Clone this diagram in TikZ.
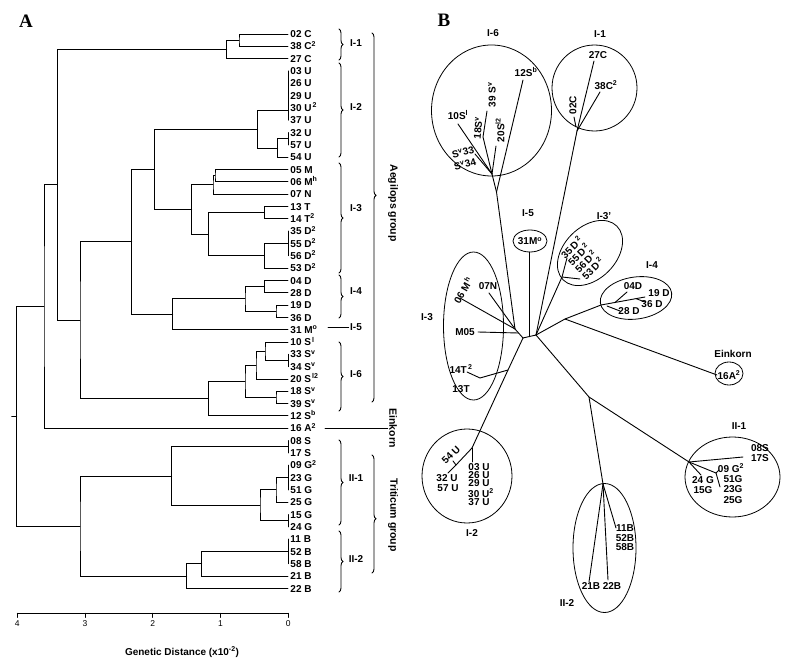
\documentclass[tikz,border=0pt]{standalone}
\usepackage{fontspec}
\setmainfont{Liberation Sans}
\newfontfamily\panelfont{Liberation Serif}
\usetikzlibrary{calc, decorations.pathreplacing}

\tikzset{
  leaf/.style={anchor=west, inner sep=2pt, text height=7.3pt, text depth=0pt,
    font=\fontsize{10}{12}\selectfont\bfseries},
  blab/.style={inner sep=0.5pt, font=\fontsize{10}{11}\selectfont\bfseries},
  grp/.style={inner sep=1pt, font=\fontsize{10}{12}\selectfont\bfseries},
  side/.style={inner sep=1pt, rotate=-90, font=\fontsize{10.5}{12}\selectfont\bfseries},
  tick/.style={inner sep=1pt, font=\fontsize{8.5}{10}\selectfont},
  panel/.style={inner sep=0pt, font=\fontsize{19}{22}\selectfont\panelfont\bfseries},
  cbrace/.style={decorate, decoration={brace, amplitude=4pt}},
  hull/.style={line width=0.8pt},
}

% one clade of the dendrogram: name, distance x, upper child, lower child
\newcommand{\clade}[4]{%
  \coordinate (cmid) at ($(#3)!0.5!(#4)$);
  \coordinate (#1) at (cmid -| #2,0);
  \draw (#3) -| (#1) |- (#4);}
% leaves at zero distance
\newcommand{\tie}[3]{%
  \draw (#2.west) -- (#3.west);
  \coordinate (#1) at ($(#2.west)!0.5!(#3.west)$);}

\begin{document}
\begin{tikzpicture}[x=1pt, y=-1pt, line width=0.9pt, line cap=round]
\useasboundingbox (0,0) rectangle (790,666);

% ---------------- A: dendrogram ----------------
\node[panel] (pA) at (26,21) {A};

\foreach \n/\t [count=\i from 0] in {
  a02/{02 C}, a38/{38 C\textsuperscript{2}}, a27/{27 C},
  a03/{03 U}, a26/{26 U}, a29/{29 U}, a30/{30 U\textsuperscript{\,2}}, a37/{37 U},
  a32/{32 U}, a57/{57 U}, a54/{54 U},
  a05/{05 M}, a06/{06 M\textsuperscript{h}}, a07/{07 N},
  a13/{13 T}, a14/{14 T\textsuperscript{2}},
  a35/{35 D\textsuperscript{2}}, a55/{55 D\textsuperscript{2}}, a56/{56 D\textsuperscript{2}}, a53/{53 D\textsuperscript{2}},
  a04/{04 D}, a28/{28 D}, a19/{19 D}, a36/{36 D},
  a31/{31 M\textsuperscript{o}},
  a10/{10 S\textsuperscript{\,l}}, a33/{33 S\textsuperscript{v}}, a34/{34 S\textsuperscript{v}},
  a20/{20 S\textsuperscript{\,l2}}, a18/{18 S\textsuperscript{v}}, a39/{39 S\textsuperscript{v}},
  a12/{12 S\textsuperscript{b}},
  a16/{16 A\textsuperscript{2}},
  a08/{08 S}, a17/{17 S}, a09/{09 G\textsuperscript{2}}, a23/{23 G}, a51/{51 G},
  a25/{25 G}, a15/{15 G}, a24/{24 G},
  a11/{11 B}, a52/{52 B}, a58/{58 B}, a21/{21 B}, a22/{22 B}}
  \node[leaf] (\n) at (288,{34+12.32*\i}) {\t};

% I-1
\clade{c1}{239}{a02}{a38}
\clade{c2}{226.7}{c1}{a27}
% I-2
\draw (a03.west) -- (a37.west);
\coordinate (u1) at ($(a30.west)!0.2!(a37.west)$);
\tie{u2}{a32}{a57}
\clade{u3}{277.7}{u2}{a54}
\clade{c3}{257.7}{u1}{u3}
% I-3
\clade{m1}{215}{a05}{a06}
\clade{m2}{213}{m1}{a07}
\clade{t1}{264.3}{a13}{a14}
\tie{d0}{a35}{a56}
\clade{d1}{264.3}{d0}{a53}
\clade{t2}{208.3}{t1}{d1}
\clade{c4}{191.7}{m2}{t2}
\clade{c5}{154.3}{c3}{c4}
% I-4, I-5
\clade{e1}{264.3}{a04}{a28}
\clade{e2}{276}{a19}{a36}
\clade{e3}{245}{e1}{e2}
\clade{e4}{172.7}{e3}{a31}
\clade{c6}{131.7}{c5}{e4}
% I-6
\tie{s0}{a33}{a34}
\clade{s1}{265}{a10}{s0}
\clade{s2}{256}{s1}{a20}
\clade{s3}{276}{a18}{a39}
\clade{s4}{245}{s2}{s3}
\clade{s5}{208.3}{s4}{a12}
\clade{c7}{80}{c6}{s5}
\clade{c8}{57.3}{c2}{c7}
\clade{c9}{44}{c8}{a16}
% II-1, II-2
\tie{g0}{a08}{a17}
\tie{g1}{a09}{a51}
\clade{g2}{276}{g1}{a25}
\tie{g3}{a15}{a24}
\clade{g4}{260}{g2}{g3}
\clade{g5}{171.7}{g0}{g4}
\tie{b0}{a11}{a58}
\clade{b1}{201.7}{b0}{a21}
\clade{b2}{186.7}{b1}{a22}
\clade{c10}{80}{g5}{b2}
\clade{r0}{16.7}{c9}{c10}
\draw (r0) -- ++(-5,0);

% axis
\draw (17.3,613.3) -- (288.3,613.3);
\foreach \d in {0,...,4}
  \draw ({288.3-67.75*\d},613.3) -- ++(0,4) node[tick, anchor=north, yshift=-2pt] (t\d) {\d};
\node[grp] (axis) at (182,652) {Genetic Distance (x10\textsuperscript{-2})};

% groups
\draw[cbrace] (339,29) -- (339,60);   \node[grp] (gA1) at (356,43) {I-1};
\draw[cbrace] (339,63) -- (339,157);  \node[grp] (gA2) at (356,107) {I-2};
\draw[cbrace] (339,163) -- (339,273); \node[grp] (gA3) at (356,208) {I-3};
\draw[cbrace] (339,275) -- (339,318); \node[grp] (gA4) at (356,291) {I-4};
\node[grp] (gA5) at (356,327) {I-5};
\draw (328,327) -- (gA5);
\draw[cbrace] (339,342) -- (339,411); \node[grp] (gA6) at (356,374) {I-6};
\draw[cbrace] (339,440) -- (339,525); \node[grp] (gA7) at (356,478) {II-1};
\draw[cbrace] (339,531) -- (339,592); \node[grp] (gA8) at (356,559) {II-2};
\draw[cbrace, decoration={aspect=0.44}] (372,33) -- (372,402);
\node[side] (aeg) at (393,203) {Aegilops group};
\node[side] (ein) at (393,428) {Einkorn};
\draw (325,428) -- (ein);
\draw[cbrace, decoration={aspect=0.54}] (372,455) -- (372,573);
\node[side] (tri) at (393,515) {Triticum group};

% ---------------- B: unrooted tree ----------------
\node[panel] (pB) at (444,20) {B};

\coordinate (h1) at (523,338);
\coordinate (h5) at (529,336.6);
\coordinate (h2) at (536,335);
\coordinate (j3) at (515,329);
\coordinate (j5m) at (518.5,333);
\coordinate (j6a) at (496.5,192);
\coordinate (j6b) at (492,174);
\coordinate (j1) at (577,131);
\coordinate (j3p) at (562,277);
\coordinate (jE) at (565,319);
\coordinate (j4) at (601,305);
\coordinate (jT) at (508,370);
\coordinate (j2) at (472,448);
\coordinate (jII) at (589,397);
\coordinate (j21) at (689,462);
\coordinate (j22) at (603,484);

\draw (h1) -- (h5) -- (h2);
\draw (h1) -- (j3) -- (j6a) -- (j6b);

% I-6
\draw[hull] (491.5,110.5) ellipse [x radius=60, y radius=65.5];
\node[grp] (gB6) at (493,33) {I-6};
\node[blab] (b12) at (526,72) {12S\textsuperscript{b}};
\node[blab, rotate=90] (b39) at (492,95) {39 S\textsuperscript{v}};
\node[blab] (b10) at (458,115) {10S\textsuperscript{l}};
\node[blab, rotate=85] (b18) at (478,128) {18S\textsuperscript{v}};
\node[blab, rotate=90] (b20) at (500,130) {20S\textsuperscript{l2}};
\node[blab, rotate=15] (b33) at (463,152) {S\textsuperscript{v}33};
\node[blab, rotate=15] (b34) at (465,164) {S\textsuperscript{v}34};
\coordinate (x12) at (523,80);
\coordinate (x39) at (487,111);
\coordinate (k39) at (483,137);
\coordinate (x20) at (496,146);
\coordinate (x10) at (458,124);
\coordinate (x33) at (475,154);
\draw (j6a) -- (x12);
\draw (j6b) -- (x20);
\draw (j6b) -- (k39) -- (x39);
\draw (j6b) -- (x10);
\draw (j6b) -- (x33);

% I-1
\draw[hull] (594.5,88) ellipse [x radius=42.5, y radius=43];
\node[grp] (gB1) at (600,34) {I-1};
\node[blab] (b27) at (598,55) {27C};
\node[blab] (b38) at (606,85) {38C\textsuperscript{2}};
\node[blab, rotate=90] (b02) at (573,105) {02C};
\coordinate (x27) at (594,61);
\coordinate (x38) at (600,92);
\coordinate (x02) at (574,117);
\coordinate (k02) at (576,127);
\draw (h2) -- (j1) -- (x27);
\draw (j1) -- (x38);
\draw (k02) -- (x02);

% I-5
\draw[hull] (530,241) ellipse [x radius=17, y radius=11];
\node[grp] (gB5) at (528,213) {I-5};
\node[blab] (b31) at (530,241) {31M\textsuperscript{o}};
\coordinate (x31) at (529,252);
\draw (h5) -- (x31);

% I-3'
\draw[hull, rotate around={45:(590,253)}] (590,253) ellipse [x radius=38, y radius=26];
\node[grp] (gB3p) at (604,216) {I-3'};
\foreach \n/\t/\x/\y in {b35/35/571.5/247.5, b55/55/578.5/254.5, b56/56/585.5/261.5, b53/53/592.5/268.5}
  \node[blab, rotate=45] (\n) at (\x,\y) {\t\,D\textsuperscript{\,2}};
\coordinate (x35) at (567,258);
\coordinate (x53) at (580,279);
\draw (h2) -- (j3p) -- (x35);
\draw (j3p) -- (x53);

% I-4 and Einkorn
\draw[hull, rotate around={8:(636,298)}] (636,298) ellipse [x radius=36, y radius=21];
\node[grp] (gB4) at (652,265) {I-4};
\node[blab] (b04) at (633,286) {04D};
\node[blab] (b19) at (659,293) {19 D};
\node[blab] (b36) at (652,304) {36 D};
\node[blab] (b28) at (629,311) {28 D};
\coordinate (x19) at (645,297);
\coordinate (k04) at (615,302.5);
\coordinate (x04) at (627,292);
\coordinate (k28) at (607,306);
\coordinate (x28) at (620,311);
\coordinate (k36) at (636,298.6);
\coordinate (x36) at (645,302);
\draw (h2) -- (jE) -- (j4) -- (x19);
\draw (k04) -- (x04);
\draw (k28) -- (x28);
\draw (k36) -- (x36);
\draw[hull] (729,373.5) ellipse [x radius=14, y radius=11.5];
\node[grp] (gBE) at (733,354) {Einkorn};
\node[blab] (b16) at (729,375) {16A\textsuperscript{2}};
\coordinate (x16) at (717,375);
\draw (jE) -- (x16);

% I-3
\draw[hull] (473.5,326) ellipse [x radius=30, y radius=74];
\node[grp] (gB3) at (427,317) {I-3};
\node[blab, rotate=60] (b06) at (463,290) {06 M\textsuperscript{\,h}};
\node[blab] (b07) at (488,286) {07N};
\node[blab] (b05) at (465,332) {M05};
\node[blab] (b14) at (461,369) {14T\textsuperscript{\,2}};
\node[blab] (b13) at (461,389) {13T};
\coordinate (x07) at (489,293);
\coordinate (x06) at (460,298);
\coordinate (x05) at (478,332);
\coordinate (x13) at (480,378);
\coordinate (x14) at (467,372);
\draw (x07) -- (j3);
\draw (x06) -- (j3);
\draw (x05) -- (j5m);
\draw (h1) -- (jT) -- (j2);
\draw (jT) -- (x13) -- (x14);

% I-2
\draw[hull] (467,476) ellipse [x radius=45, y radius=47];
\node[grp] (gB2) at (472,533) {I-2};
\node[blab, rotate=45] (b54) at (451,455) {54 U};
\node[blab] (b32) at (447,478) {32 U};
\node[blab] (b57) at (448,488) {57 U};
\node[blab] (b03) at (479,467) {03 U};
\node[blab] (b26) at (479,475) {26 U};
\node[blab] (b29) at (479,483) {29 U};
\node[blab] (b30) at (481,493) {30 U\textsuperscript{2}};
\node[blab] (b37) at (479,502) {37 U};
\coordinate (x03) at (472,462);
\coordinate (k32) at (456,465);
\coordinate (x32) at (448,473);
\coordinate (x54) at (453,461);
\draw (j2) -- (x03);
\draw (j2) -- (k32) -- (x32);
\draw (k32) -- (x54);

% II-1
\draw (h2) -- (jII) -- (j21);
\draw (jII) -- (j22);
\draw[hull] (732.5,477) ellipse [x radius=47.5, y radius=40];
\node[grp] (gB21) at (739,426) {II-1};
\node[blab] (b08) at (760,448) {08S};
\node[blab] (b17) at (760,458) {17S};
\node[blab] (b09) at (731,468) {09 G\textsuperscript{2}};
\node[blab] (b51) at (733,479) {51G};
\node[blab] (b23) at (733,489) {23G};
\node[blab] (b25) at (733,500) {25G};
\node[blab] (b24) at (703,480) {24 G};
\node[blab] (b15) at (703,490) {15G};
\coordinate (x08) at (743,457);
\coordinate (k09) at (716,473);
\coordinate (x09) at (720,487);
\coordinate (s09) at (719,470);
\coordinate (x24) at (701,475);
\draw (j21) -- (x08);
\draw (j21) -- (k09) -- (x09);
\draw (k09) -- (s09);
\draw (j21) -- (x24);

% II-2
\draw[hull] (604.5,548) ellipse [x radius=31.5, y radius=64.5];
\node[grp] (gB22) at (567,603) {II-2};
\node[blab] (b11) at (625,528) {11B};
\node[blab] (b52) at (625,538) {52B};
\node[blab] (b58) at (625,547) {58B};
\node[blab] (b21) at (591,586) {21B};
\node[blab] (b22) at (612,586) {22B};
\coordinate (x11) at (616,528);
\coordinate (x22) at (608,580);
\coordinate (x21) at (589,582);
\draw (j22) -- (x11);
\draw (j22) -- (x22);
\draw (j22) -- (x21);
\end{tikzpicture}
\end{document}
